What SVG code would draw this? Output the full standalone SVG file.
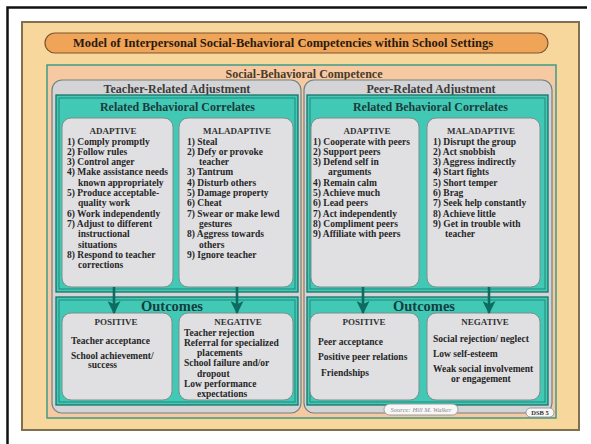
<svg xmlns="http://www.w3.org/2000/svg" width="591" height="444" viewBox="0 0 591 444">
<defs>
<marker id="ah" viewBox="0 0 12 12" refX="11" refY="6" markerWidth="13" markerHeight="13" markerUnits="userSpaceOnUse" orient="auto"><path d="M0,0 L12,6 L0,12 L3,6 z" fill="#0e6b61"/></marker>
</defs>
<style>
text{font-family:"Liberation Serif","Times New Roman",serif;font-weight:bold;fill:#262626}
.item{font-size:9.5px}
.hd{font-size:9px;text-anchor:middle;fill:#333}
.sec{font-size:12px;text-anchor:middle;fill:#1c3c3a}
.adj{font-size:12px;text-anchor:middle;fill:#3b3b3b}
.out{font-size:14.5px;text-anchor:middle;fill:#123f3f}
.gray{fill:#e0e0e2;stroke:#7d8d8b;stroke-width:1}
.adjbox{fill:#d4d4d6;stroke:#6f8280;stroke-width:1.2}
.teal{fill:#41c9b6;stroke:#167368;stroke-width:1.3}
.tin{fill:none;stroke:#1d8377;stroke-width:0.9}
.arr{stroke:#0e6b61;stroke-width:2.6;fill:none;marker-end:url(#ah)}
.pill{fill:#f7f7f7;stroke:#8c8c8c;stroke-width:0.8}
</style>
<path d="M7.5,444 V7.5 H587" fill="none" stroke="#111" stroke-width="2.5"/>
<g id="frame">
<rect x="22" y="22" width="557" height="408" fill="#f8d79c" stroke="#80704f" stroke-width="2"/>
</g>
<g id="title">
<rect x="45" y="33" width="503" height="20" rx="10" fill="#f0a457" stroke="#7d5430" stroke-width="1.2"/>
<text x="73" y="47" font-size="12" textLength="420" lengthAdjust="spacingAndGlyphs" style="fill:#2b1a0e">Model of Interpersonal Social-Behavioral Competencies within School Settings</text>
</g>
<g id="competence">
<rect x="47" y="65" width="509" height="353" fill="#f6c9a2" stroke="#3e9a88" stroke-width="1.5"/>
<text class="sec" x="304" y="77.5" style="fill:#4a3a2c">Social-Behavioral Competence</text>
</g>
<g id="teacher-adjustment">
<rect class="adjbox" x="52" y="80" width="249" height="333" rx="10"/>
<text class="adj" x="177" y="92.5">Teacher-Related Adjustment</text>
</g>
<g id="peer-adjustment">
<rect class="adjbox" x="304" y="80" width="248" height="333" rx="10"/>
<text class="adj" x="431" y="92.5">Peer-Related Adjustment</text>
</g>
<g id="teacher-correlates">
<rect class="teal" x="56" y="95" width="242" height="197"/>
<rect class="tin" x="59" y="98" width="236" height="191"/>
<text class="sec" x="177.5" y="111">Related Behavioral Correlates</text>
</g>
<g id="peer-correlates">
<rect class="teal" x="307" y="95" width="241" height="197"/>
<rect class="tin" x="310" y="98" width="235" height="191"/>
<text class="sec" x="430.5" y="111">Related Behavioral Correlates</text>
</g>
<g id="teacher-adaptive">
<rect class="gray" x="62" y="118" width="111" height="169" rx="9"/>
<text class="hd" x="113" y="134">ADAPTIVE</text>
<text class="item">
<tspan x="67" y="144.5">1) Comply promptly</tspan>
<tspan x="67" y="154.8">2) Follow rules</tspan>
<tspan x="67" y="165.1">3) Control anger</tspan>
<tspan x="67" y="175.4">4) Make assistance needs</tspan>
<tspan x="78" y="185.7">known appropriately</tspan>
<tspan x="67" y="196">5) Produce acceptable-</tspan>
<tspan x="78" y="206.3">quality work</tspan>
<tspan x="67" y="216.6">6) Work independently</tspan>
<tspan x="67" y="226.9">7) Adjust to different</tspan>
<tspan x="78" y="237.2">instructional</tspan>
<tspan x="78" y="247.5">situations</tspan>
<tspan x="67" y="257.8">8) Respond to teacher</tspan>
<tspan x="78" y="268.1">corrections</tspan>
</text>
</g>
<g id="teacher-maladaptive">
<rect class="gray" x="179" y="118" width="114" height="169" rx="9"/>
<text class="hd" x="237" y="134">MALADAPTIVE</text>
<text class="item">
<tspan x="187" y="144.5">1) Steal</tspan>
<tspan x="187" y="154.8">2) Defy or provoke</tspan>
<tspan x="199" y="165.1">teacher</tspan>
<tspan x="187" y="175.4">3) Tantrum</tspan>
<tspan x="187" y="185.7">4) Disturb others</tspan>
<tspan x="187" y="196">5) Damage property</tspan>
<tspan x="187" y="206.3">6) Cheat</tspan>
<tspan x="187" y="216.6">7) Swear or make lewd</tspan>
<tspan x="199" y="226.9">gestures</tspan>
<tspan x="187" y="237.2">8) Aggress towards</tspan>
<tspan x="199" y="247.5">others</tspan>
<tspan x="187" y="257.8">9) Ignore teacher</tspan>
</text>
</g>
<g id="peer-adaptive">
<rect class="gray" x="311" y="118" width="108" height="169" rx="9"/>
<text class="hd" x="367" y="134">ADAPTIVE</text>
<text class="item">
<tspan x="313" y="144.5">1) Cooperate with peers</tspan>
<tspan x="313" y="154.8">2) Support peers</tspan>
<tspan x="313" y="165.1">3) Defend self in</tspan>
<tspan x="328" y="175.4">arguments</tspan>
<tspan x="313" y="185.7">4) Remain calm</tspan>
<tspan x="313" y="196">5) Achieve much</tspan>
<tspan x="313" y="206.3">6) Lead peers</tspan>
<tspan x="313" y="216.6">7) Act independently</tspan>
<tspan x="313" y="226.9">8) Compliment peers</tspan>
<tspan x="313" y="237.2">9) Affiliate with peers</tspan>
</text>
</g>
<g id="peer-maladaptive">
<rect class="gray" x="427" y="118" width="113" height="169" rx="9"/>
<text class="hd" x="481" y="134">MALADAPTIVE</text>
<text class="item">
<tspan x="433" y="144.5">1) Disrupt the group</tspan>
<tspan x="433" y="154.8">2) Act snobbish</tspan>
<tspan x="433" y="165.1">3) Aggress indirectly</tspan>
<tspan x="433" y="175.4">4) Start fights</tspan>
<tspan x="433" y="185.7">5) Short temper</tspan>
<tspan x="433" y="196">6) Brag</tspan>
<tspan x="433" y="206.3">7) Seek help constantly</tspan>
<tspan x="433" y="216.6">8) Achieve little</tspan>
<tspan x="433" y="226.9">9) Get in trouble with</tspan>
<tspan x="445" y="237.2">teacher</tspan>
</text>
</g>
<g id="teacher-outcomes">
<rect class="teal" x="56" y="297" width="242" height="108"/>
<rect class="tin" x="59" y="300" width="236" height="102"/>
<text class="out" x="172" y="311">Outcomes</text>
</g>
<g id="peer-outcomes">
<rect class="teal" x="307" y="297" width="241" height="108"/>
<rect class="tin" x="310" y="300" width="235" height="102"/>
<text class="out" x="424" y="311">Outcomes</text>
</g>
<g id="teacher-positive">
<rect class="gray" x="62" y="313" width="110" height="87" rx="9"/>
<text class="hd" x="116" y="325">POSITIVE</text>
<text class="item">
<tspan x="71" y="343.5">Teacher acceptance</tspan>
<tspan x="71" y="358.5">School achievement/</tspan>
<tspan x="88" y="367.5">success</tspan>
</text>
</g>
<g id="teacher-negative">
<rect class="gray" x="179" y="313" width="114" height="87" rx="9"/>
<text class="hd" x="238" y="325">NEGATIVE</text>
<text class="item">
<tspan x="184" y="335.5">Teacher rejection</tspan>
<tspan x="184" y="345.8">Referral for specialized</tspan>
<tspan x="197" y="356.1">placements</tspan>
<tspan x="184" y="366.4">School failure and/or</tspan>
<tspan x="197" y="376.7">dropout</tspan>
<tspan x="184" y="387">Low performance</tspan>
<tspan x="197" y="397.3">expectations</tspan>
</text>
</g>
<g id="peer-positive">
<rect class="gray" x="310" y="313" width="109" height="87" rx="9"/>
<text class="hd" x="364" y="325">POSITIVE</text>
<text class="item">
<tspan x="318" y="344.5">Peer acceptance</tspan>
<tspan x="318" y="360">Positive peer relations</tspan>
<tspan x="321" y="375.5">Friendships</tspan>
</text>
</g>
<g id="peer-negative">
<rect class="gray" x="427" y="313" width="113" height="87" rx="9"/>
<text class="hd" x="485" y="325">NEGATIVE</text>
<text class="item">
<tspan x="433" y="342">Social rejection/ neglect</tspan>
<tspan x="433" y="357">Low self-esteem</tspan>
<tspan x="433" y="372">Weak social involvement</tspan>
<tspan x="451" y="382">or engagement</tspan>
</text>
</g>
<g id="connectors">
<line class="arr" x1="114" y1="287" x2="114" y2="313"/>
<line class="arr" x1="237" y1="287" x2="237" y2="313"/>
<line class="arr" x1="363" y1="287" x2="363" y2="313"/>
<line class="arr" x1="489" y1="287" x2="489" y2="313"/>
</g>
<g id="source">
<rect class="pill" x="384" y="404" width="74" height="11" rx="5.5"/>
<text x="421" y="412" font-size="6.6" text-anchor="middle" style="font-weight:normal;font-style:italic;fill:#8a8a8a">Source: Hill M. Walker</text>
</g>
<g id="dsb">
<rect class="pill" x="526" y="408" width="28" height="9" rx="4.5"/>
<text x="540" y="415" font-size="6.5" text-anchor="middle" style="fill:#333">DSB 5</text>
</g>
</svg>
